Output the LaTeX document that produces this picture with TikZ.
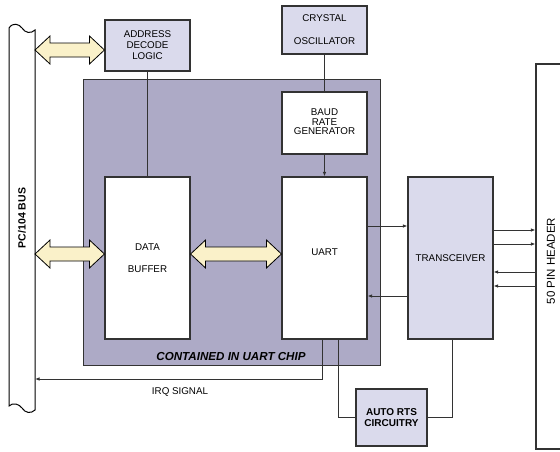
\documentclass[tikz,border=0pt]{standalone}
\usepackage{fontspec}
\setmainfont{Liberation Sans}
\usetikzlibrary{arrows.meta,calc}
\definecolor{boxlav}{HTML}{DADAEC}
\definecolor{chipgray}{HTML}{ADAAC6}
\definecolor{cream}{HTML}{FAF1C9}
\definecolor{ln}{HTML}{333333}
\newcommand{\blockarrow}[2]{%
  \draw[blockarr] let \p1=#1, \p2=#2 in
    (\x1,\y1) -- ({\x1+15pt},{\y1+14pt}) -- ({\x1+15pt},{\y1+7pt})
    -- ({\x2-15pt},{\y2+7pt}) -- ({\x2-15pt},{\y2+14pt}) -- (\x2,\y2)
    -- ({\x2-15pt},{\y2-14pt}) -- ({\x2-15pt},{\y2-7pt})
    -- ({\x1+15pt},{\y1-7pt}) -- ({\x1+15pt},{\y1-14pt}) -- cycle;}
\begin{document}
\begin{tikzpicture}[x=1pt,y=-1pt,
  box/.style={draw=ln, line width=1.1pt, inner sep=0pt, align=center,
    font=\fontsize{9.8}{11}\selectfont},
  lav/.style={box, fill=boxlav},
  wht/.style={box, fill=white},
  wire/.style={draw=ln, line width=0.9pt},
  sig/.style={wire, -{Latex[length=4.5pt,width=3.5pt]}},
  blockarr/.style={draw=black, line width=0.8pt, fill=cream, line join=miter},
  lbl/.style={font=\fontsize{9.8}{11}\selectfont, inner sep=0pt}]
\clip (0,0) rectangle (560,451);
\fill[white] (0,0) rectangle (560,451);

% PC/104 bus
\draw[draw=black, line width=1pt, fill=white]
  (9,406) -- (9,28) .. controls (13,22) and (19,24) .. (22,28)
  .. controls (25,33) and (31,34) .. (35,30) -- (35,410)
  .. controls (31,414) and (25,413) .. (22,408)
  .. controls (19,404) and (13,402) .. (9,406) -- cycle;
\coordinate (busR) at (35,250);
\node[font=\bfseries\fontsize{10.5}{12}\selectfont, rotate=90, inner sep=0pt] (buslbl) at (22,218) {PC/104 BUS};

% chip region
\node[draw=ln, line width=0.8pt, fill=chipgray, minimum width=297pt, minimum height=286pt, inner sep=0pt] (chip) at (231.5,222) {};
\node[font=\bfseries\itshape\fontsize{11.6}{13}\selectfont, inner sep=0pt] (chiplbl) at (231,356) {CONTAINED IN UART CHIP};

% boxes
\node[lav, minimum width=85pt, minimum height=51pt] (addr) at (147.5,45.5) {ADDRESS\\DECODE\\LOGIC};
\node[lav, minimum width=85pt, minimum height=48pt, font=\fontsize{9.8}{21}\selectfont] (xtal) at (324.5,30) {\raisebox{2pt}{CRYSTAL}\\OSCILLATOR};
\node[wht, minimum width=85pt, minimum height=62pt] (baud) at (324.5,123) {\raisebox{3pt}{\begin{tabular}{@{}c@{}}BAUD\\[-1.5pt]RATE\\[-1.5pt]GENERATOR\end{tabular}}};
\node[wht, minimum width=85pt, minimum height=162pt, font=\fontsize{9.8}{22}\selectfont] (buf) at (147.5,258) {DATA\\BUFFER};
\node[wht, minimum width=85pt, minimum height=162pt] (uart) at (324.5,258) {\raisebox{12pt}{UART}};
\node[lav, minimum width=85pt, minimum height=162pt] (trx) at (450.5,258) {TRANSCEIVER};
\node[lav, minimum width=71pt, minimum height=57pt, font=\bfseries\fontsize{10}{11}\selectfont] (rts) at (391.5,417.5) {AUTO RTS\\CIRCUITRY};
\node[draw=ln, line width=1.1pt, minimum width=40pt, minimum height=385pt, inner sep=0pt] (hdr) at (556,256.5) {};
\node[font=\fontsize{11.5}{13}\selectfont, rotate=90, inner sep=0pt] (hdrlbl) at (551,261) {50 PIN HEADER};

% block arrows
\blockarrow{(busR |- 0,50)}{(addr.west |- 0,50)}
\blockarrow{(busR |- 0,254)}{(buf.west |- 0,254)}
\blockarrow{(buf.east |- 0,254)}{(uart.west |- 0,254)}

% wires
\draw[wire] (addr.south) -- (buf.north);
\draw[wire] (xtal.south) -- (baud.north);
\draw[sig] (baud.south) -- (uart.north);
\draw[sig] (uart.east |- 0,226) -- (trx.west |- 0,226);
\draw[sig] (trx.west |- 0,296) -- (uart.east |- 0,296);
\draw[sig] (trx.east |- 0,230) -- (hdr.west |- 0,230);
\draw[sig] (trx.east |- 0,244) -- (hdr.west |- 0,244);
\draw[sig] (hdr.west |- 0,272) -- (trx.east |- 0,272);
\draw[sig] (hdr.west |- 0,286) -- (trx.east |- 0,286);
\draw[sig] (uart.south -| 322,0) -- (322,379) -- (busR |- 0,379);
\node[lbl] (irq) at (180,392) {IRQ SIGNAL};
\draw[wire] (uart.south -| 338,0) |- (rts.west);
\draw[wire] (rts.east) -| (trx.south -| 452,0);
\end{tikzpicture}
\end{document}
